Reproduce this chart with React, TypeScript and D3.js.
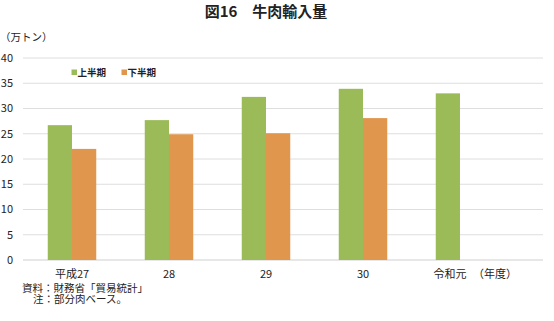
import React from "react";
import * as d3 from "d3";

const categories = ["平成27", "28", "29", "30", "令和元"];
const seriesNames = ["上半期", "下半期"];
const firstHalf = [26.7, 27.7, 32.3, 33.9, 33.0];
const secondHalf: (number | null)[] = [22.0, 24.9, 25.1, 28.1, null];
const yTicks = [0, 5, 10, 15, 20, 25, 30, 35, 40];
const colors = ["#9bbb59", "#e0964d"];
const footnotes = ["資料：財務省「貿易統計」", "注：部分肉ベース。"];

const W = 554;
const H = 321;
const FONT = "'Noto Sans CJK JP', 'Noto Sans', sans-serif";

export default function App() {
  const x0 = d3.scaleBand<string>().domain(categories).range([23.5, 508.5]).paddingInner(0.5).paddingOuter(0.25);
  const x1 = d3.scaleBand<string>().domain(seriesNames).range([0, x0.bandwidth()]);
  const y = d3.scaleLinear().domain([0, 40]).range([260, 58]);
  const data = [firstHalf, secondHalf];

  return (
    <svg width={W} height={H} style={{ position: "absolute", left: 0, top: 0, background: "#fff" }} fontFamily={FONT}>
      <text x={266} y={17} textAnchor="middle" fontSize={15} fontWeight="bold" fill="#222">図16　牛肉輸入量</text>
      <text x={0} y={41} fontSize={10.5} fill="#222">（万トン）</text>
      {yTicks.map((t) => (
        <g key={t}>
          <line x1={23} x2={543} y1={y(t)} y2={y(t)} stroke={t === 0 ? "#cfcfcf" : "#dedede"} strokeWidth={1} />
          <text x={13} y={y(t)} dy="0.36em" textAnchor="end" fontSize={11} fill="#222">{t}</text>
        </g>
      ))}
      {categories.map((c, i) => (
        <g key={c}>
          {seriesNames.map((s, j) => {
            const v = data[j][i];
            if (v == null) return null;
            return (
              <rect key={s} x={(x0(c) ?? 0) + (x1(s) ?? 0)} y={y(v)} width={x1.bandwidth()} height={y(0) - y(v)} fill={colors[j]} />
            );
          })}
          <text x={(x0(c) ?? 0) + x0.bandwidth() / 2} dx={i === categories.length - 1 ? -10 : 0} y={277.5} textAnchor="middle" fontSize={11} fill="#222">{c}</text>
        </g>
      ))}
      <text x={495} y={277.5} textAnchor="middle" fontSize={11} fill="#222">（年度）</text>
      {seriesNames.map((s, j) => (
        <g key={s} transform={`translate(${71.5 + j * 50},0)`}>
          <rect x={0} y={69.5} width={5.5} height={5.5} fill={colors[j]} />
          <text x={6} y={76} fontSize={9.5} fontWeight="bold" fill="#222">{s}</text>
        </g>
      ))}
      <text fontSize={10.5} fill="#222">
        <tspan x={22} y={291.5}>{footnotes[0]}</tspan>
        <tspan x={33} y={302.5}>{footnotes[1]}</tspan>
      </text>
    </svg>
  );
}
